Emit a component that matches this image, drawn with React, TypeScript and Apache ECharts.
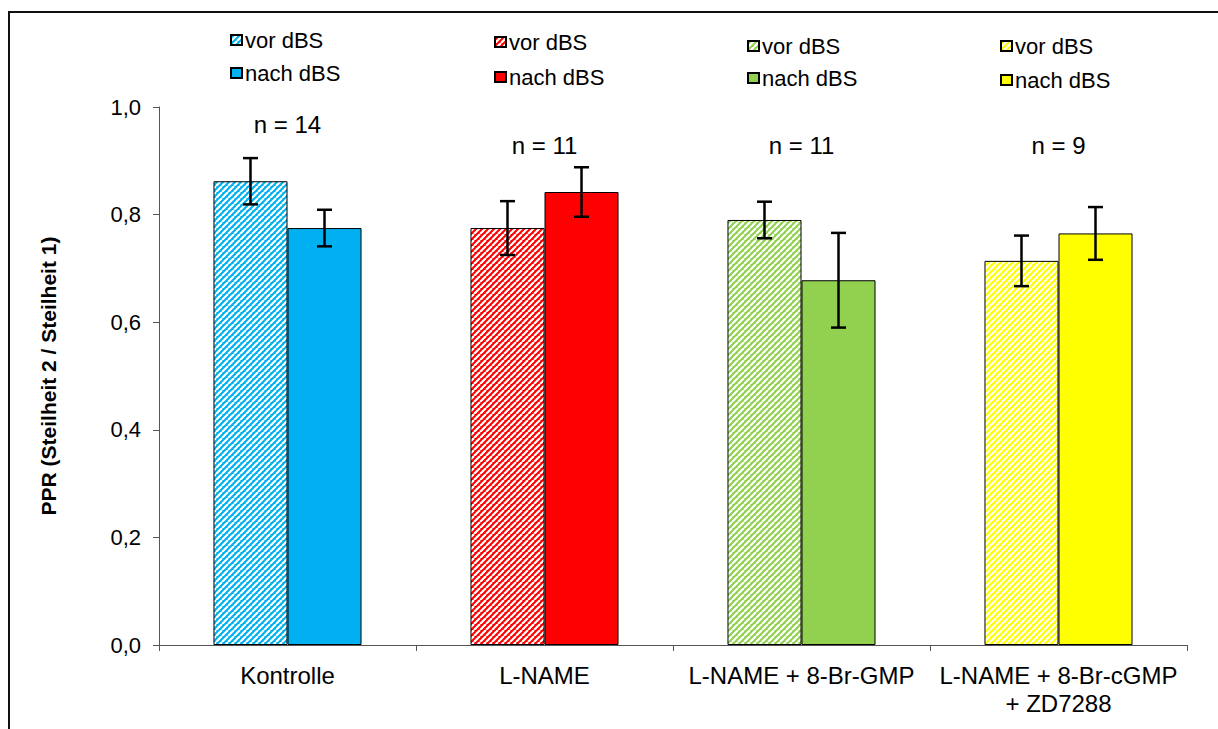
import React, { useEffect, useRef } from "react";
import * as echarts from "echarts";

const categories = ["Kontrolle", "L-NAME", "L-NAME + 8-Br-GMP", "L-NAME + 8-Br-cGMP\n+ ZD7288"];
const vorMeans = [0.862, 0.775, 0.79, 0.714];
const vorErrors = [0.043, 0.05, 0.034, 0.047];
const nachMeans = [0.775, 0.842, 0.678, 0.765];
const nachErrors = [0.034, 0.046, 0.088, 0.049];
const groupColors = ["#00B0F0", "#FF0000", "#92D050", "#FFFF00"];
const nLabels = ["n = 14", "n = 11", "n = 11", "n = 9"];
const nLabelY = [0.968, 0.928, 0.928, 0.928];
const legendLeft = [230, 494, 747, 1000];
const legendTop = [29, 31, 35, 35];
const legendGap = [11, 13, 10, 12];

const FONT = "'Liberation Sans', Arial, Helvetica, sans-serif";

function makeHatch(color: string) {
  const c = document.createElement("canvas");
  c.width = 6;
  c.height = 6;
  const ctx = c.getContext("2d")!;
  ctx.fillStyle = color;
  ctx.fillRect(0, 0, 6, 6);
  ctx.strokeStyle = "#ffffff";
  ctx.lineWidth = 2.2;
  for (const k of [-6, 0, 6]) {
    ctx.beginPath();
    ctx.moveTo(k, 6);
    ctx.lineTo(k + 6, 0);
    ctx.stroke();
  }
  return c;
}

const vorName = (i: number) => `vor dBS #${i + 1}`;
const nachName = (i: number) => `nach dBS #${i + 1}`;

export default function App() {
  const ref = useRef<HTMLDivElement>(null);
  useEffect(() => {
    if (!ref.current) return;
    const chart = echarts.init(ref.current, null, { renderer: "svg" });

    const barSeries: any[] = [];
    categories.forEach((_, i) => {
      barSeries.push({
        name: vorName(i),
        type: "bar",
        stack: "vor",
        barWidth: "28.8%",
        barGap: "0%",
        data: categories.map((_, j) => (j === i ? vorMeans[i] : "-")),
        itemStyle: {
          color: { image: makeHatch(groupColors[i]), repeat: "repeat" },
          borderColor: "#000",
          borderWidth: 1,
        },
      });
    });
    categories.forEach((_, i) => {
      barSeries.push({
        name: nachName(i),
        type: "bar",
        stack: "nach",
        barWidth: "28.8%",
        barGap: "0%",
        data: categories.map((_, j) => (j === i ? nachMeans[i] : "-")),
        itemStyle: { color: groupColors[i], borderColor: "#000", borderWidth: 1 },
      });
    });

    const errData: number[][] = [];
    categories.forEach((_, i) => {
      errData.push([i, vorMeans[i] - vorErrors[i], vorMeans[i] + vorErrors[i], 0]);
      errData.push([i, nachMeans[i] - nachErrors[i], nachMeans[i] + nachErrors[i], 1]);
    });

    const option: any = {
      animation: false,
      backgroundColor: "#fff",
      textStyle: { fontFamily: FONT },
      graphic: [
        {
          type: "rect",
          shape: { x: 9, y: 12, width: 1400, height: 900 },
          style: { fill: "none", stroke: "#111", lineWidth: 2 },
          silent: true,
        },
      ],
      legend: categories.map((_, i) => ({
        data: [vorName(i), nachName(i)],
        orient: "vertical",
        left: legendLeft[i],
        top: legendTop[i],
        itemGap: legendGap[i],
        itemWidth: 11,
        itemHeight: 10,
        icon: "rect",
        padding: 0,
        selectedMode: false,
        formatter: (n: string) => n.split(" #")[0],
        textStyle: { fontSize: 22, color: "#000", fontFamily: FONT, padding: [0, 0, 0, -2] },
      })),
      grid: { left: 159, right: 31, top: 107, bottom: 84, containLabel: false, outerBoundsMode: "none" },
      xAxis: {
        type: "category",
        data: categories,
        axisLine: { lineStyle: { color: "#555", width: 1 } },
        axisTick: { show: true, length: 6, lineStyle: { color: "#555" } },
        axisLabel: {
          interval: 0,
          margin: 16,
          fontSize: 24,
          lineHeight: 28,
          color: "#000",
          fontFamily: FONT,
        },
        splitLine: { show: false },
      },
      yAxis: {
        type: "value",
        min: 0,
        max: 1,
        interval: 0.2,
        name: "PPR (Steilheit 2 / Steilheit 1)",
        nameLocation: "middle",
        nameGap: 100,
        nameTextStyle: { fontSize: 21, fontWeight: "bold", color: "#000", fontFamily: FONT },
        axisLine: { show: true, lineStyle: { color: "#555", width: 1 } },
        axisTick: { show: true, length: 6, lineStyle: { color: "#555" } },
        axisLabel: {
          margin: 18,
          fontSize: 22,
          color: "#000",
          fontFamily: FONT,
          formatter: (v: number) => v.toFixed(1).replace(".", ","),
        },
        splitLine: { show: false },
      },
      series: [
        ...barSeries,
        {
          type: "custom",
          name: "err",
          data: errData,
          encode: { x: 0, y: [1, 2] },
          z: 10,
          renderItem: (params: any, api: any) => {
            const cat = api.value(0);
            const lo = api.value(1);
            const hi = api.value(2);
            const side = api.value(3);
            const band = api.size([1, 0])[0];
            const barW = band * 0.288;
            const cx = api.coord([cat, 0])[0] + (side === 0 ? -barW / 2 : barW / 2);
            const yLo = api.coord([cat, lo])[1];
            const yHi = api.coord([cat, hi])[1];
            const hw = 7.5;
            const st = { stroke: "#000", lineWidth: 2.5 };
            return {
              type: "group",
              children: [
                { type: "line", shape: { x1: cx, y1: yLo, x2: cx, y2: yHi }, style: st },
                { type: "line", shape: { x1: cx - hw, y1: yLo, x2: cx + hw, y2: yLo }, style: st },
                { type: "line", shape: { x1: cx - hw, y1: yHi, x2: cx + hw, y2: yHi }, style: st },
              ],
            };
          },
        },
        {
          type: "custom",
          name: "nlabels",
          data: categories.map((_, i) => [i, nLabelY[i]]),
          encode: { x: 0, y: 1 },
          z: 10,
          renderItem: (params: any, api: any) => {
            const p = api.coord([api.value(0), api.value(1)]);
            return {
              type: "text",
              x: p[0],
              y: p[1],
              style: {
                text: nLabels[params.dataIndex],
                fill: "#000",
                fontSize: 24,
                fontFamily: FONT,
                align: "center",
                verticalAlign: "middle",
              },
            };
          },
        },
      ],
    };
    chart.setOption(option);
    return () => chart.dispose();
  }, []);
  return (
    <div
      ref={ref}
      style={{ position: "fixed", left: 0, top: 0, width: 1218, height: 729, background: "#fff" }}
    />
  );
}
